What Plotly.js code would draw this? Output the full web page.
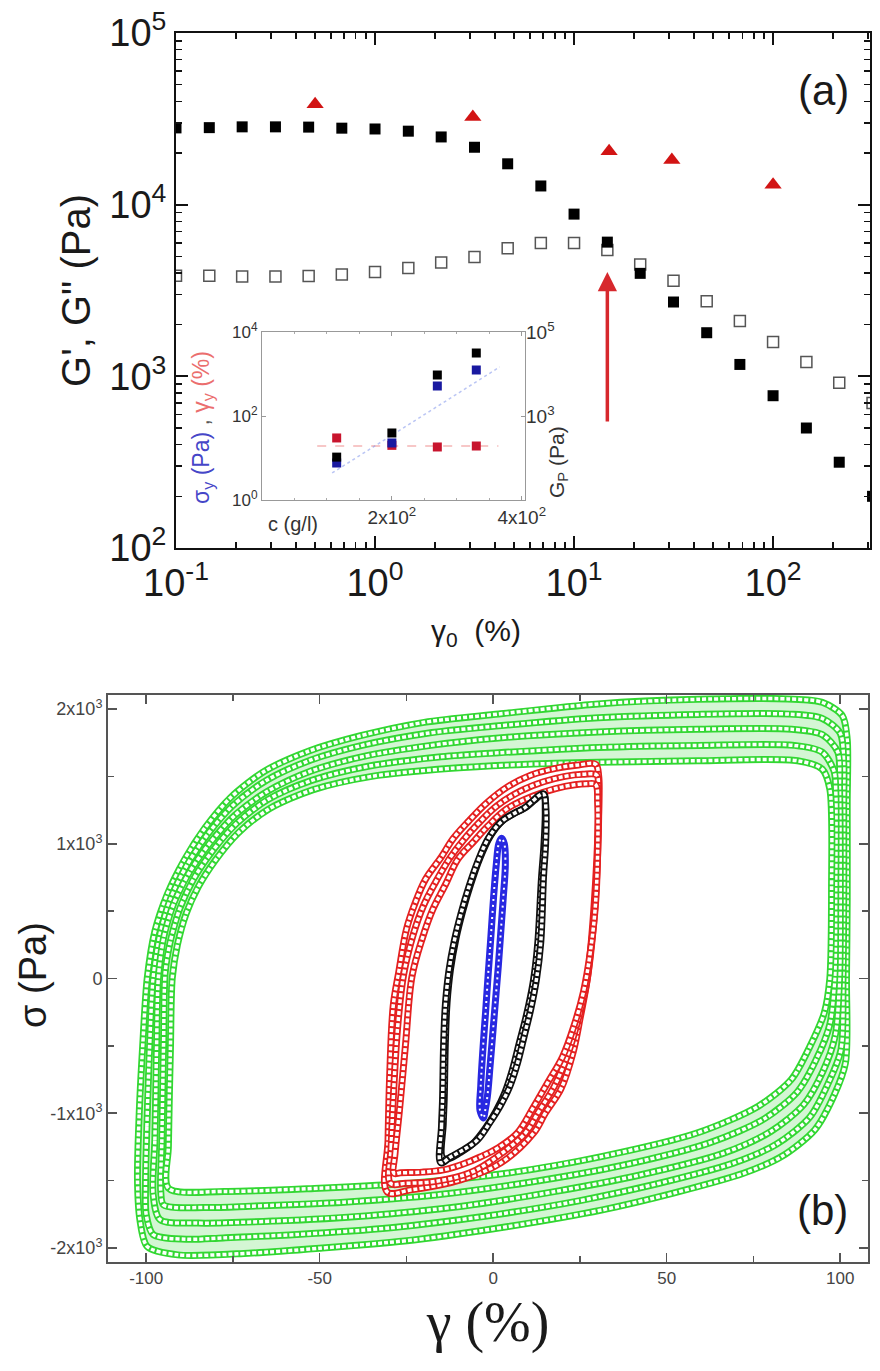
<!DOCTYPE html>
<html>
<head>
<meta charset="utf-8">
<script src="https://cdn.plot.ly/plotly-3.0.1.min.js"></script>
<style>html,body{margin:0;padding:0;background:#fff}</style>
</head>
<body>
<div id="chart" style="width:880px;height:1371px"></div>
<script>
// ================= Panel (a): amplitude sweep =================
const strainAmp = [0.1, 0.147, 0.215, 0.316, 0.464, 0.681, 1.0, 1.47, 2.15, 3.16, 4.64, 6.81, 10, 14.7, 21.5, 31.6, 46.4, 68.1, 100, 147, 215, 316];
const gPrime = [28000, 28100, 28400, 28400, 28300, 27900, 27600, 26800, 24800, 21600, 17300, 12850, 8810, 6050, 3980, 2710, 1795, 1173, 771, 500, 316, 200];
const gDoublePrime = [3850, 3850, 3820, 3820, 3840, 3920, 4050, 4280, 4600, 4950, 5570, 5970, 5980, 5440, 4480, 3610, 2740, 2100, 1585, 1210, 919, 699];
const triStrain = [0.5, 3.1, 15, 31, 100];
const triValue = [38500, 32400, 20500, 18200, 13070];
const arrowStrain = 14.7, arrowFrom = 535, arrowTo = 4050;

// inset
const conc = [115, 200, 270, 330];
const gPlateau = [105, 394, 9460, 31600];
const yieldStress = [7.6, 22.8, 518, 1245];
const yieldStrain = [30, 20, 18.3, 19.3];
const fitConc = [108, 366];
const fitStress = [4.4, 1470];
const strainLineConc = [85, 364];
const strainLineVal = [19.3, 19.3];

// tick labels
const aXTickVals = [0.1, 1, 10, 100];
const aXTickText = ['10<sup>-1</sup>', '10<sup>0</sup>', '10<sup>1</sup>', '10<sup>2</sup>'];
const aYTickVals = [100, 1000, 10000, 100000];
const aYTickText = ['10<sup>2</sup>', '10<sup>3</sup>', '10<sup>4</sup>', '10<sup>5</sup>'];
const inXTickVals = [200, 400];
const inXTickText = ['2x10<sup>2</sup>', '4x10<sup>2</sup>'];
const inYLTickVals = [1, 100, 10000];
const inYLTickText = ['10<sup>0</sup>', '10<sup>2</sup>', '10<sup>4</sup>'];
const inYRTickVals = [1000, 100000];
const inYRTickText = ['10<sup>3</sup>', '10<sup>5</sup>'];
const bXTickVals = [-100, -50, 0, 50, 100];
const bXTickText = ['-100', '-50', '0', '50', '100'];
const bYTickVals = [-2000, -1000, 0, 1000, 2000];
const bYTickText = ['-2x10<sup>3</sup>', '-1x10<sup>3</sup>', '0', '1x10<sup>3</sup>', '2x10<sup>3</sup>'];

// ================= Panel (b): Lissajous loops =================
// green (largest amplitude): five tracks across the drifting band, outer -> inner
const gOutX = [-102.5, -102, -101, -99.7, -97.5, -94, -89, -83, -75.8, -65.8, -52.9, -38.5, -19.9, 1.6, 30.3, 59, 84.8, 94.8, 100.6, 102, 102, 102, 101.8, 101.5, 98.1, 92.7, 83.2, 72.3, 51.9, 31.5, 4.3, -22.9, -50.1, -70.5, -90.9, -99.7, -101.8, -102.5];
const gOutY = [-1494, -1000, -500, 0, 350, 620, 880, 1120, 1340, 1540, 1690, 1800, 1901, 1963, 2038, 2072, 2075, 2050, 1951, 1777, 1300, 600, 0, -626, -874, -1122, -1320, -1444, -1593, -1717, -1841, -1940, -2002, -2039, -2051, -1989, -1791, -1494];
const gQ1X = [-100.2, -99.8, -99, -98, -96, -93, -88.3, -82.3, -75.2, -65.4, -52.7, -37.8, -19, 1.6, 30.3, 59, 85.4, 94.8, 100, 101, 101, 101, 100.8, 100.2, 96.5, 91.2, 81.6, 69.2, 47, 24.7, -2.4, -29.5, -56.6, -77.8, -88.5, -98, -100, -100.2];
const gQ1Y = [-1550, -1100, -500, 0, 330, 590, 840, 1070, 1280, 1470, 1620, 1730, 1820, 1875, 1935, 1960, 1962, 1930, 1820, 1600, 1300, 600, 0, -530, -780, -1030, -1230, -1370, -1525, -1650, -1765, -1850, -1900, -1925, -1935, -1900, -1750, -1550];
const gMidX = [-98, -97.5, -97, -96.5, -95, -92, -87.5, -81.5, -74.5, -65, -52.5, -37, -18, 1.6, 30.3, 59, 86, 94.8, 99.3, 99.8, 100, 99.8, 98.5, 95, 89.5, 80, 66, 42, 18, -9, -36, -63, -85, -96, -98];
const gMidY = [-1600, -1200, -500, 0, 300, 560, 790, 1010, 1210, 1390, 1540, 1650, 1730, 1785, 1830, 1850, 1850, 1810, 1680, 1400, 662, 0, -430, -690, -935, -1135, -1300, -1460, -1580, -1690, -1760, -1800, -1815, -1790, -1600];
const gQ3X = [-95.8, -95.5, -95, -94.5, -93, -90.3, -86.3, -80.8, -74, -64.8, -52.3, -36, -15, 1.6, 30.3, 59, 86.8, 94.8, 98.2, 98.7, 98.7, 98.4, 97, 93.1, 87.7, 78.2, 62.3, 36.7, 11, -16, -43, -70, -83, -95, -95.8];
const gQ3Y = [-1580, -1220, -500, 50, 280, 520, 740, 950, 1150, 1330, 1470, 1575, 1645, 1675, 1715, 1730, 1730, 1680, 1540, 1400, 662, 0, -340, -600, -840, -1040, -1220, -1390, -1510, -1605, -1660, -1690, -1700, -1680, -1580];
const gInX = [-93.6, -93.6, -93, -92.5, -91, -88.5, -85, -80, -73.5, -64.5, -52, -35, -12, 10, 30.3, 59, 87.7, 94.8, 97, 97.5, 97, 95.4, 91.3, 85.9, 76.4, 58.7, 31.5, 4.3, -22.9, -50.1, -77.3, -93.6];
const gInY = [-1556, -1246, -500, 0, 250, 480, 680, 880, 1080, 1260, 1400, 1500, 1560, 1590, 1604, 1616, 1616, 1554, 1406, 662, 0, -255, -502, -750, -948, -1147, -1320, -1444, -1518, -1556, -1580, -1556];
// red
const rOutX = [-30.5, -30.3, -29.8, -28.8, -27.2, -25, -22.5, -19.5, -15, -11.5, -7, -2, 4, 11, 18, 24.6, 29.5, 30.4, 30.4, 29, 27.2, 25, 23, 19.5, 15, 11.7, 2.2, -9.4, -23.8, -30.5];
const rOutY = [-1585, -1200, -700, -200, 50, 365, 560, 737, 900, 1040, 1170, 1300, 1420, 1510, 1560, 1585, 1590, 1500, 1257, 513, 15, -300, -550, -820, -1000, -1145, -1368, -1494, -1569, -1585];
const rMidX = [-29.6, -29.4, -28.7, -27.5, -25.8, -23, -20.1, -16.5, -12.6, -8.5, -4.3, 1, 7.8, 14.5, 20.7, 25.8, 29.8, 30.3, 30.2, 28.9, 26.8, 24.2, 21.4, 17.6, 13.3, 9.3, 1.8, -6.5, -16.5, -25.2, -29.6];
const rMidY = [-1520, -1250, -840, -350, 30, 330, 540, 720, 890, 1030, 1150, 1280, 1390, 1460, 1500, 1515, 1510, 1400, 1000, 400, -50, -330, -570, -800, -980, -1145, -1310, -1440, -1505, -1520, -1520];
const rInX = [-28.6, -28.3, -27, -25.3, -23.4, -20.4, -17.4, -13.7, -10.2, -5.5, -1.6, 4, 11.7, 18, 23.5, 27, 29.5, 30.1, 29.6, 28, 26, 23.3, 20, 15.7, 11.5, 7, 1.5, -3.6, -9, -14.3, -20.5, -26.7, -28.6];
const rInY = [-1445, -1300, -974, -500, 15, 300, 513, 700, 885, 1020, 1130, 1260, 1356, 1410, 1438, 1445, 1440, 1300, 600, 200, -100, -350, -580, -773, -960, -1145, -1255, -1323, -1380, -1420, -1437, -1442, -1445];
// black
const bkX = [-15.1, -14.9, -14.6, -14.3, -13.8, -12.8, -11.2, -9.3, -7, -4.4, -1.4, 2.2, 6, 8.8, 11.5, 13.1, 14.5, 15.2, 15.1, 14.5, 13.7, 12.5, 10.8, 9, 7, 4.8, 2.2, -1, -4.5, -8.5, -12.2, -15.1];
const bkY = [-1368, -1100, -900, -500, -200, 50, 280, 480, 680, 870, 1040, 1160, 1225, 1262, 1320, 1356, 1370, 1257, 1000, 758, 268, 0, -230, -420, -628, -800, -937, -1070, -1197, -1270, -1323, -1368];
const bk2X = [-14.6, -14.4, -14.1, -13.8, -13.3, -12.3, -10.7, -8.8, -6.5, -3.9, -0.9, 2.6, 6.4, 9.2, 11.8, 13.4, 14.6, 15, 14.6, 13.9, 12.8, 11.5, 9.6, 7.6, 5.5, 3.3, 0.8, -2.2, -5.8, -9.5, -12.6, -14.6];
const bk2Y = [-1330, -1080, -880, -480, -180, 70, 300, 500, 700, 890, 1055, 1170, 1232, 1266, 1322, 1355, 1366, 1240, 980, 740, 250, -30, -270, -470, -680, -850, -985, -1110, -1225, -1292, -1335, -1330];
// blue
const blX = [-2.8, -3.8, -3.6, -2.9, -2.2, -1.4, -0.7, 0.1, 0.9, 1.6, 2.4, 3.2, 3.5, 2.9, 2.2, 1.5, 0.7, -0.1, -0.9, -1.7, -2.4, -2.8];
const blY = [-1035, -980, -800, -500, -250, 50, 300, 600, 850, 1000, 1040, 1000, 850, 600, 350, 100, -150, -400, -650, -880, -990, -1035];

// ================= helpers (layout only) =================
const W = 880, H = 1371;
const PX = p => p / W;
const PY = p => 1 - p / H;
function logMinor(d0, d1) { const v = []; for (let d = d0; d <= d1; d++) for (let k = 2; k <= 9; k++) v.push(k * Math.pow(10, d)); return v; }
const FONT = 'Arial, "Liberation Sans", sans-serif';
const SERIF = '"Liberation Serif", "Times New Roman", serif';

function textured(x, y, color, w, xa, ya, smooth, dash, innerW) {
  const s = smooth || 0.6;
  return [
    {type: 'scatter', mode: 'lines', x: x, y: y, xaxis: xa, yaxis: ya, hoverinfo: 'skip',
     line: {color: color, width: w, shape: 'spline', smoothing: s}},
    {type: 'scatter', mode: 'lines', x: x, y: y, xaxis: xa, yaxis: ya, hoverinfo: 'skip',
     line: {color: 'white', width: innerW || w / 2, dash: dash || '4px,2px', shape: 'spline', smoothing: s}}
  ];
}

const GREEN = 'rgb(50,215,50)', RED = 'rgb(228,32,32)', BLUE = 'rgb(40,40,225)';

const traces = [
  // ---- panel (a)
  {type: 'scatter', mode: 'markers', x: strainAmp, y: gDoublePrime, xaxis: 'x', yaxis: 'y', name: "G''",
   marker: {symbol: 'square-open', size: 11, color: '#555', line: {width: 1.5}}},
  {type: 'scatter', mode: 'markers', x: strainAmp, y: gPrime, xaxis: 'x', yaxis: 'y', name: "G'",
   marker: {symbol: 'square', size: 11, color: '#000'}},
  {type: 'scatter', mode: 'markers', x: triStrain, y: triValue, xaxis: 'x', yaxis: 'y', name: 'triangles',
   marker: {symbol: 'triangle-up', size: 15, color: 'rgb(210,20,20)'}},
  // ---- inset
  {type: 'scatter', mode: 'lines', x: strainLineConc, y: strainLineVal, xaxis: 'x3', yaxis: 'y3', hoverinfo: 'skip',
   line: {color: 'rgba(235,120,120,0.55)', width: 1.5, dash: 'dash'}},
  {type: 'scatter', mode: 'lines', x: fitConc, y: fitStress, xaxis: 'x3', yaxis: 'y3', hoverinfo: 'skip',
   line: {color: 'rgba(130,150,235,0.55)', width: 1.5, dash: 'dot'}},
  {type: 'scatter', mode: 'markers', x: conc, y: yieldStrain, xaxis: 'x3', yaxis: 'y3', name: 'γy',
   marker: {symbol: 'square', size: 9, color: 'rgb(200,20,45)'}},
  {type: 'scatter', mode: 'markers', x: conc, y: gPlateau, xaxis: 'x3', yaxis: 'y4', name: 'GP',
   marker: {symbol: 'square', size: 9, color: '#000'}},
  {type: 'scatter', mode: 'markers', x: conc, y: yieldStress, xaxis: 'x3', yaxis: 'y3', name: 'σy',
   marker: {symbol: 'square', size: 9, color: 'rgb(25,25,160)'}},
  // ---- panel (b): green band
  {type: 'scatter', mode: 'lines', x: gOutX, y: gOutY, xaxis: 'x2', yaxis: 'y2', hoverinfo: 'skip', fill: 'toself',
   fillcolor: 'rgb(212,246,212)', line: {width: 0, shape: 'spline', smoothing: 0.8}},
  {type: 'scatter', mode: 'lines', x: gInX, y: gInY, xaxis: 'x2', yaxis: 'y2', hoverinfo: 'skip', fill: 'toself',
   fillcolor: '#ffffff', line: {width: 0, shape: 'spline', smoothing: 0.8}},
  ...textured(gOutX, gOutY, GREEN, 7, 'x2', 'y2', 0.8),
  ...textured(gQ1X, gQ1Y, GREEN, 7, 'x2', 'y2', 0.8),
  ...textured(gMidX, gMidY, GREEN, 7, 'x2', 'y2', 0.8),
  ...textured(gQ3X, gQ3Y, GREEN, 7, 'x2', 'y2', 0.8),
  ...textured(gInX, gInY, GREEN, 7, 'x2', 'y2', 0.8),
  // red
  ...textured(rOutX, rOutY, RED, 7, 'x2', 'y2', 1.0),
  ...textured(rMidX, rMidY, RED, 7, 'x2', 'y2', 1.0),
  ...textured(rInX, rInY, RED, 7, 'x2', 'y2', 1.0),
  // black
  ...textured(bk2X, bk2Y, '#111', 7, 'x2', 'y2', 1.0),
  ...textured(bkX, bkY, '#111', 7, 'x2', 'y2', 1.0),
  // blue
  ...textured(blX, blY, BLUE, 7, 'x2', 'y2', 1.0, '2px,4px', 2)
];

const axA = {showline: true, linecolor: '#111', linewidth: 2, mirror: 'allticks', ticks: 'inside', ticklen: 12,
  tickwidth: 2, tickcolor: '#111', showgrid: false, zeroline: false,
  tickfont: {family: FONT, size: 38, color: '#1a1a1a'}};

const ann = (px, py, text, size, extra) => Object.assign({xref: 'paper', yref: 'paper', x: PX(px), y: PY(py),
  xanchor: 'center', yanchor: 'middle', showarrow: false, text: text,
  font: {family: FONT, size: size, color: '#1a1a1a'}}, extra || {});

const layout = {
  width: W, height: H, margin: {l: 0, r: 0, t: 0, b: 0}, paper_bgcolor: '#fff', plot_bgcolor: 'rgba(0,0,0,0)',
  showlegend: false, hovermode: false,
  xaxis: Object.assign({}, axA, {type: 'log', range: [-1, 2.487], domain: [PX(176), PX(870)], anchor: 'y',
    tickmode: 'array', tickvals: aXTickVals, ticktext: aXTickText,
    minor: {tickmode: 'array', tickvals: logMinor(-1, 2), ticks: 'inside', ticklen: 6, tickwidth: 1.5, tickcolor: '#111', showgrid: false}}),
  yaxis: Object.assign({}, axA, {type: 'log', range: [2, 5], domain: [PY(548), PY(33)], anchor: 'x',
    tickmode: 'array', tickvals: aYTickVals, ticktext: aYTickText,
    minor: {tickmode: 'array', tickvals: logMinor(2, 4), ticks: 'inside', ticklen: 6, tickwidth: 1.5, tickcolor: '#111', showgrid: false},
    title: {text: 'G\', G" (Pa)', font: {family: FONT, size: 40, color: '#1a1a1a'}, standoff: 6}}),
  // inset axes
  xaxis3: {domain: [PX(262), PX(525)], anchor: 'y3', range: [0, 405], showline: true, linecolor: '#999', linewidth: 1,
    mirror: 'ticks', ticks: 'inside', ticklen: 4, tickcolor: '#999', showgrid: false, zeroline: false,
    tickmode: 'array', tickvals: inXTickVals, ticktext: inXTickText,
    minor: {dtick: 50, ticks: 'inside', ticklen: 2, tickcolor: '#aaa', showgrid: false},
    tickfont: {family: FONT, size: 19, color: '#333'}},
  yaxis3: {domain: [PY(500), PY(332)], anchor: 'x3', type: 'log', range: [0, 4], showline: true, linecolor: '#999',
    linewidth: 1, mirror: true, ticks: 'inside', ticklen: 4, tickcolor: '#999', showgrid: false, zeroline: false,
    tickmode: 'array', tickvals: inYLTickVals, ticktext: inYLTickText,
    tickfont: {family: FONT, size: 17, color: '#333'}},
  yaxis4: {overlaying: 'y3', anchor: 'x3', side: 'right', type: 'log', range: [1, 5], showline: false,
    ticks: 'inside', ticklen: 4, tickcolor: '#999', showgrid: false, zeroline: false,
    tickmode: 'array', tickvals: inYRTickVals, ticktext: inYRTickText,
    tickfont: {family: FONT, size: 19, color: '#333'}},
  // panel (b)
  xaxis2: {domain: [PX(108), PX(868)], anchor: 'y2', range: [-111, 108], showline: true, linecolor: '#555',
    linewidth: 2, mirror: 'allticks', ticks: 'inside', ticklen: 9, tickwidth: 1.5, tickcolor: '#555',
    showgrid: false, zeroline: false, tickmode: 'array', tickvals: bXTickVals, ticktext: bXTickText,
    minor: {dtick: 25, tick0: 0, ticks: 'inside', ticklen: 6, tickwidth: 1.5, tickcolor: '#555', showgrid: false},
    tickfont: {family: FONT, size: 17, color: '#444'},
    title: {text: 'γ (%)', font: {family: SERIF, size: 56, color: '#1a1a1a'}, standoff: 14}},
  yaxis2: {domain: [PY(1262), PY(695)], anchor: 'x2', range: [-2104, 2104], showline: true, linecolor: '#555',
    linewidth: 2, mirror: 'allticks', ticks: 'inside', ticklen: 9, tickwidth: 1.5, tickcolor: '#555',
    showgrid: false, zeroline: false, tickmode: 'array', tickvals: bYTickVals, ticktext: bYTickText,
    minor: {dtick: 500, tick0: 0, ticks: 'inside', ticklen: 6, tickwidth: 1.5, tickcolor: '#555', showgrid: false},
    tickfont: {family: FONT, size: 18, color: '#444'}},
  annotations: [
    {xref: 'x', yref: 'y', x: Math.log10(arrowStrain), y: Math.log10(arrowTo), axref: 'x', ayref: 'y',
     ax: Math.log10(arrowStrain), ay: Math.log10(arrowFrom), text: '', showarrow: true, arrowhead: 2,
     arrowsize: 1.1, arrowwidth: 3.5, arrowcolor: 'rgb(215,40,45)'},
    ann(823, 90, '(a)', 42),
    ann(822, 1210, '(b)', 42),
    ann(476, 632, 'γ<sub>0</sub>\u00A0\u00A0(%)', 30),
    ann(33, 975, 'σ (Pa)', 38, {textangle: -90}),
    ann(293, 524, 'c (g/l)', 20, {font: {family: FONT, size: 20, color: '#333'}}),
    ann(202, 428, '<span style="color:rgb(70,70,200)">σ<sub>y</sub> (Pa)</span>\u00A0,\u00A0<span style="color:rgb(235,110,110)">γ<sub>y</sub> (%)</span>', 23,
        {textangle: -90, font: {family: FONT, size: 23, color: '#555'}}),
    ann(558, 462, 'G<sub>P</sub> (Pa)', 21, {textangle: -90, font: {family: FONT, size: 21, color: '#333'}})
  ]
};

Plotly.newPlot('chart', traces, layout, {staticPlot: true, displayModeBar: false});
</script>
</body>
</html>
